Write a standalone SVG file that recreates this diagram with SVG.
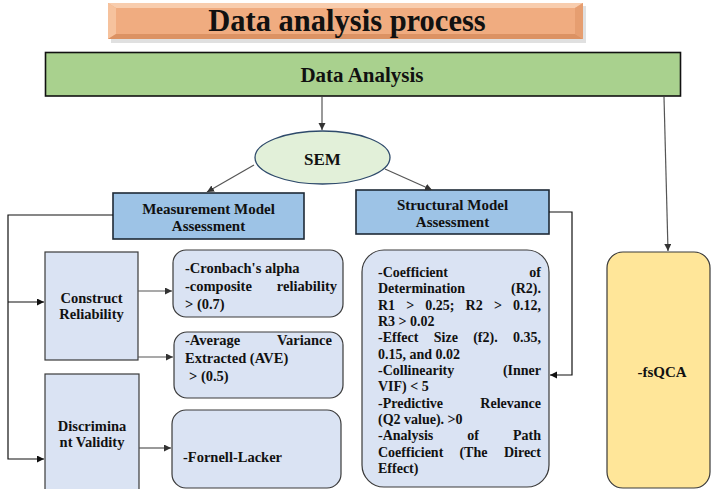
<svg xmlns="http://www.w3.org/2000/svg" width="712" height="489" viewBox="0 0 712 489">
<style>
text{font-family:"Liberation Serif","Times New Roman",serif;font-weight:bold;fill:#111}
.lt{font-size:14.5px}
.st{font-size:14px}
.hd{font-size:15px;text-anchor:middle}
.e{text-anchor:end}
.box{fill:#DAE3F3;stroke:#3A3A3A;stroke-width:1.2}
.blue{fill:#9DC3E6;stroke:#1F2A36;stroke-width:1.6}
.cn{fill:none;stroke:#111;stroke-width:1.2}
.cg{fill:none;stroke:#555;stroke-width:1.2}
</style>
<defs>
<marker id="ab" markerUnits="userSpaceOnUse" markerWidth="8" markerHeight="8" refX="7" refY="3.5" orient="auto"><path d="M0,0 L7,3.5 L0,7 z" fill="#111"/></marker>
<marker id="ag" markerUnits="userSpaceOnUse" markerWidth="8" markerHeight="8" refX="7" refY="3.5" orient="auto"><path d="M0,0 L7,3.5 L0,7 z" fill="#333"/></marker>
</defs>

<g id="title">
<rect x="111" y="6" width="475" height="37" fill="#000" opacity="0.12"/>
<rect x="108" y="3" width="475" height="36" fill="#F0AC80"/>
<polygon points="108,3 583,3 575,8 116,8" fill="#F8CDAE"/>
<polygon points="108,3 116,8 116,34 108,39" fill="#F6C29D"/>
<polygon points="583,3 575,8 575,34 583,39" fill="#E69E70"/>
<polygon points="108,39 116,34 575,34 583,39" fill="#DC9263"/>
<text x="347" y="31" text-anchor="middle" style="font-size:30.5px">Data analysis process</text>
</g>

<g id="data-analysis">
<rect x="45.5" y="52.5" width="635" height="43.5" fill="#A9D18E" stroke="#111" stroke-width="1.6"/>
<text x="362" y="82" text-anchor="middle" style="font-size:21px">Data Analysis</text>
</g>

<g id="sem">
<ellipse cx="322.5" cy="157.5" rx="67.5" ry="26.5" fill="#E2F0D9" stroke="#2E4A6B" stroke-width="1.3"/>
<text x="322.5" y="165" text-anchor="middle" style="font-size:17px">SEM</text>
</g>

<g id="measurement">
<rect class="blue" x="113" y="193" width="191" height="46"/>
<text class="hd" x="208.5" y="214">Measurement Model</text>
<text class="hd" x="208.5" y="231">Assessment</text>
</g>

<g id="structural">
<rect class="blue" x="356" y="190" width="193" height="44"/>
<text class="hd" x="452.5" y="210">Structural Model</text>
<text class="hd" x="452.5" y="227">Assessment</text>
</g>

<g id="construct">
<rect class="box" x="45" y="252" width="93" height="108"/>
<text class="lt" x="91.5" y="303" text-anchor="middle">Construct</text>
<text class="lt" x="91.5" y="319" text-anchor="middle">Reliability</text>
</g>

<g id="discriminant">
<rect class="box" x="45" y="374" width="94" height="122"/>
<text class="lt" x="92" y="431" text-anchor="middle">Discrimina</text>
<text class="lt" x="92" y="447" text-anchor="middle">nt Validity</text>
</g>

<g id="cronbach">
<rect class="box" x="173" y="250" width="170" height="67" rx="13"/>
<text class="lt" x="185" y="273">-Cronbach's alpha</text>
<text class="lt" x="185" y="291">-composite</text>
<text class="lt e" x="337" y="291">reliability</text>
<text class="lt" x="185" y="309">&gt; (0.7)</text>
</g>

<g id="ave">
<rect class="box" x="174" y="332" width="169" height="66" rx="13"/>
<text class="lt" x="185" y="345">-Average</text>
<text class="lt e" x="332" y="345">Variance</text>
<text class="lt" x="185" y="363">Extracted (AVE)</text>
<text class="lt" x="189" y="381">&gt; (0.5)</text>
</g>

<g id="fornell">
<rect class="box" x="172" y="410" width="169" height="78" rx="14"/>
<text class="lt" x="183" y="462">-Fornell-Lacker</text>
</g>

<g id="structural-criteria">
<rect class="box" x="362" y="250" width="187" height="237" rx="22"/>
<text class="st" x="378" y="277">-Coefficient</text>
<text class="st e" x="541" y="277">of</text>
<text class="st" x="378" y="293">Determination</text>
<text class="st e" x="541" y="293">(R2).</text>
<text class="st" y="310"><tspan x="378">R1</tspan><tspan x="406.2">&gt;</tspan><tspan x="425.3">0.25;</tspan><tspan x="465.6">R2</tspan><tspan x="493.9">&gt;</tspan></text>
<text class="st e" x="541" y="310">0.12,</text>
<text class="st" x="378" y="326">R3 &gt; 0.02</text>
<text class="st" y="342"><tspan x="378">-Effect</tspan><tspan x="433.8">Size</tspan><tspan x="473.2">(f2).</tspan></text>
<text class="st e" x="541" y="342">0.35,</text>
<text class="st" x="378" y="359">0.15, and 0.02</text>
<text class="st" x="378" y="375">-Collinearity</text>
<text class="st e" x="541" y="375">(Inner</text>
<text class="st" x="378" y="391">VIF) &lt; 5</text>
<text class="st" x="378" y="408">-Predictive</text>
<text class="st e" x="541" y="408">Relevance</text>
<text class="st" x="378" y="424">(Q2 value). &gt;0</text>
<text class="st" y="440"><tspan x="378">-Analysis</tspan><tspan x="467.3">of</tspan></text>
<text class="st e" x="541" y="440">Path</text>
<text class="st" y="457"><tspan x="378">Coefficient</tspan><tspan x="459.4">(The</tspan></text>
<text class="st e" x="541" y="457">Direct</text>
<text class="st" x="378" y="473">Effect)</text>
</g>

<g id="fsqca">
<rect x="607" y="252" width="103" height="236" rx="16" fill="#FFE699" stroke="#3A3A3A" stroke-width="1.2"/>
<text x="662" y="377" text-anchor="middle" style="font-size:15px">-fsQCA</text>
</g>

<g id="connectors">
<line class="cg" x1="322" y1="97" x2="322" y2="130" marker-end="url(#ag)"/>
<line class="cg" x1="664" y1="97" x2="668" y2="251" marker-end="url(#ag)"/>
<line class="cg" x1="254" y1="165" x2="207" y2="192" marker-end="url(#ag)"/>
<line class="cg" x1="385" y1="169" x2="432" y2="190" marker-end="url(#ag)"/>
<polyline class="cn" points="113,215 8,215 8,459 44,459" marker-end="url(#ab)"/>
<line class="cn" x1="8" y1="302" x2="44" y2="302" marker-end="url(#ab)"/>
<line class="cg" x1="138" y1="291" x2="172" y2="291" marker-end="url(#ag)"/>
<line class="cg" x1="138" y1="357" x2="173" y2="357" marker-end="url(#ag)"/>
<line class="cg" x1="139" y1="448" x2="171" y2="448" marker-end="url(#ag)"/>
<polyline class="cn" points="549,212 572,212 572,375 550,375" marker-end="url(#ab)"/>
</g>
</svg>
